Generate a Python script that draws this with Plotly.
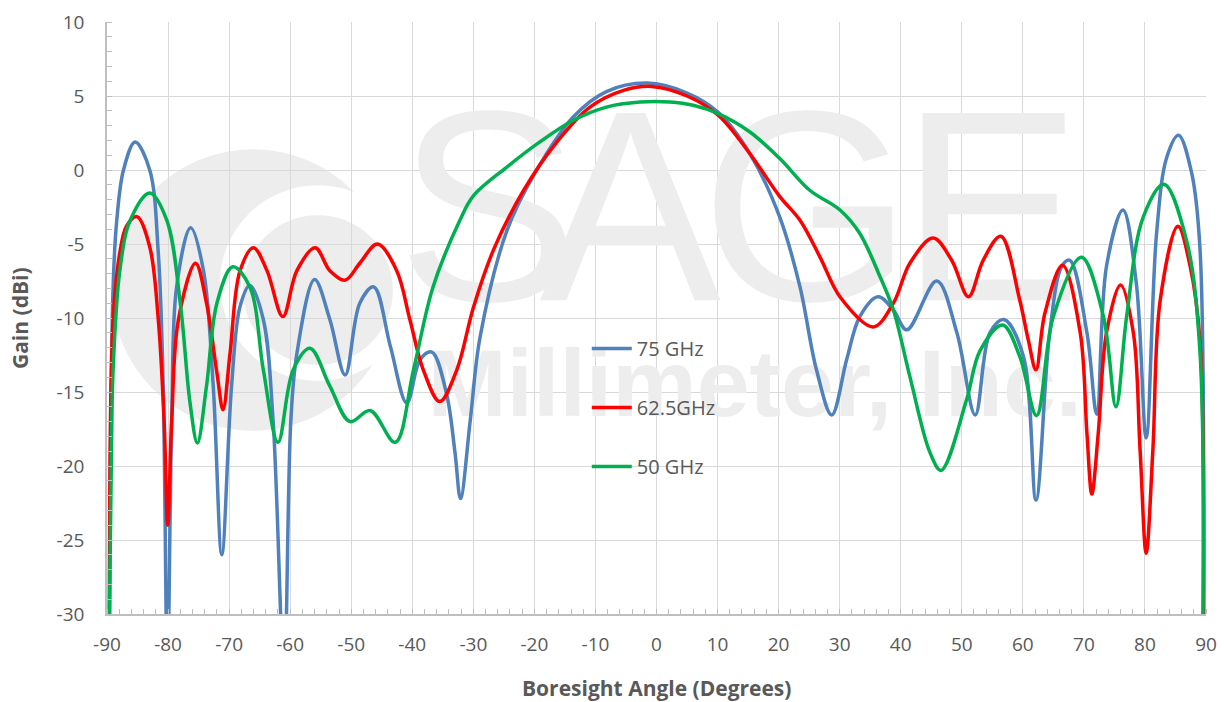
import plotly.graph_objects as go

# ---------------- data ----------------
angle_75 = [-89.6, -89.0, -88.4, -87.3, -85.4, -83.0, -81.6, -80.8, -80.1, -79.4, -78.6, -76.3,
            -74.2, -72.6, -71.2, -69.6, -68.2, -66.6, -64.4, -62.8, -61.0, -59.9, -58.9, -56.0,
            -53.5, -51.0, -48.6, -46.3, -43.6, -40.9, -38.7, -36.8, -34.4, -33.0, -32.1, -30.5,
            -28.9, -24.5, -19.9, -13.6, -8.2, -1.5, 5.0, 10.1, 15.3, 20.2, 23.5, 26.2, 28.7,
            31.15, 33.3, 36.3, 38.8, 41.0, 45.9, 49.2, 52.2, 54.6, 56.9, 60.1, 62.15, 64.4, 66.4,
            67.7, 70.5, 72.1, 73.7, 76.4, 78.6, 80.2, 81.9, 83.6, 85.5, 87.65, 89.0, 89.6]
gain_75 = [-30, -7.9, -3.4, 0.0, 1.9, 0.0, -5.6, -14.6, -34, -16.9, -7.9, -3.9,
           -6.8, -14.6, -26.0, -14.6, -9.2, -7.8, -10.1, -16.9, -34, -17.0, -12.4, -7.4,
           -10.1, -13.85, -9.0, -7.9, -11.9, -15.75, -12.8, -12.3, -15.1, -19.1, -22.2, -16.9,
           -11.3, -4.1, -0.2, 3.6, 5.3, 5.87, 5.2, 3.9, 1.1, -3.2, -7.9, -13.5, -16.55,
           -12.8, -9.9, -8.56, -9.46, -10.8, -7.5, -11.0, -16.55, -11.0, -10.1, -12.6, -22.3, -11.0, -6.5,
           -6.1, -11.0, -16.5, -6.5, -2.7, -7.7, -18.1, -4.3, 0.9, 2.35, -0.2, -5.2, -30]

angle_625 = [-89.6, -89.0, -87.9, -86.8, -85.1, -83.0, -81.6, -80.65, -80.05, -79.4, -78.3, -75.5,
             -73.7, -72.0, -71.0, -69.85, -68.2, -66.0, -63.8, -61.2, -58.9, -55.9, -53.5, -51.0,
             -48.6, -45.7, -42.55, -40.4, -38.2, -35.5, -32.7, -30.0, -26.7, -21.8, -16.3, -10.9,
             -5.4, -0.8, 5.0, 10.1, 15.3, 20.2, 23.5, 26.8, 30.1, 35.5, 38.8, 41.5, 45.3, 48.35,
             51.1, 53.5, 56.4, 59.5, 60.9, 62.15, 63.6, 66.5, 69.4, 70.5, 71.3, 72.35, 73.7, 76.0,
             78.1, 79.2, 80.2, 81.3, 82.5, 85.4, 87.4, 89.0, 89.6]
gain_625 = [-30, -10.1, -5.6, -3.8, -3.15, -5.2, -10.1, -16.9, -24.0, -16.9, -10.1, -6.3,
            -9.0, -13.7, -16.2, -12.4, -6.8, -5.26, -6.8, -9.9, -6.8, -5.26, -6.8, -7.44,
            -6.3, -5.0, -6.8, -10.1, -13.5, -15.65, -13.5, -9.3, -5.4, -1.4, 1.9, 4.25,
            5.38, 5.65, 5.0, 3.7, 1.1, -1.8, -3.4, -5.9, -8.6, -10.6, -9.0, -6.3, -4.6, -6.1,
            -8.56, -6.1, -4.47, -8.8, -11.5, -13.5, -9.7, -6.43, -11.0, -17.8, -21.9, -17.8, -11.0, -7.77,
            -11.0, -18.9, -25.9, -18.9, -8.8, -3.8, -6.5, -11.5, -30]

angle_50 = [-89.6, -89.3, -89.0, -87.9, -86.2, -83.0, -80.2, -78.0, -76.4, -75.2, -73.7, -72.0,
            -69.4, -66.6, -64.4, -62.0, -59.5, -56.75, -53.5, -50.2, -46.9, -42.8, -39.8, -36.6,
            -32.2, -30.0, -24.5, -19.1, -13.6, -8.2, -2.7, 2.2, 6.0, 10.1, 15.3, 20.2, 25.1,
            30.1, 33.3, 36.6, 38.8, 41.5, 44.8, 46.6, 50.8, 53.0, 56.7, 59.5, 62.25, 65.0, 69.6,
            73.2, 75.25, 77.0, 79.7, 83.1, 86.8, 89.0, 89.5]
gain_50 = [-30, -20, -13.5, -6.8, -3.4, -1.55, -3.4, -9.0, -15.75, -18.45, -14.6, -9.0,
           -6.54, -7.9, -13.5, -18.4, -13.5, -12.05, -14.6, -17.0, -16.25, -18.4, -13.5, -7.9,
           -3.4, -1.75, 0.2, 1.9, 3.36, 4.25, 4.59, 4.59, 4.37, 3.81, 2.57, 0.77, -1.37,
           -2.72, -4.29, -7.2, -9.46, -13.96, -19.1, -20.3, -15.5, -12.2, -10.47, -12.6, -16.6, -9.9, -5.9,
           -9.9, -16.0, -9.9, -3.2, -0.96, -4.74, -12.2, -30]

series_names = ["75 GHz", "62.5GHz", "50 GHz"]
series_colors = ["#4F81BD", "#FF0000", "#00B050"]

x_ticks = list(range(-90, 91, 10))
y_ticks = list(range(-30, 11, 5))

x_title = "Boresight Angle (Degrees)"
y_title = "Gain (dBi)"

# watermark text
wm_letters = ["S", "A", "G", "E"]
wm_letter_x = [-27.6, -4.3, 24.6, 54.8]
wm_letter_y = [-4.2, -4.2, -4.2, -4.2]
wm_sub = ["Millimeter, Inc."]
wm_sub_x = [16.1]
wm_sub_y = [-15.0]

# ---------------- figure ----------------
W, H = 1224, 702
ML, MR, MT, MB = 107, 17.5, 21.5, 87.5
PW, PH = W - ML - MR, H - MT - MB

def px_to_paper(px, py):
    # window pixel -> paper coordinates
    return (px - ML) / PW, (H - MB - py) / PH

WM_COLOR = "#ededed"

fig = go.Figure()

# watermark (drawn first, under the curves)
fig.add_trace(go.Scatter(x=wm_letter_x, y=wm_letter_y, text=wm_letters, mode="text",
                         textposition="middle center",
                         textfont=dict(family="Liberation Sans", size=272, color=WM_COLOR),
                         hoverinfo="skip", showlegend=False))
fig.add_trace(go.Scatter(x=wm_sub_x, y=wm_sub_y, text=wm_sub, mode="text",
                         textposition="middle center",
                         textfont=dict(family="Liberation Sans", size=95, color=WM_COLOR, weight="bold"),
                         hoverinfo="skip", showlegend=False))

# logo circles (decoration)
logo = [((253, 290), 141, WM_COLOR), ((318, 283), 98, "white"), ((318, 290), 75, WM_COLOR)]
shapes = []
for (cx, cy), r, col in logo:
    x0, y0 = px_to_paper(cx - r, cy + r)
    x1, y1 = px_to_paper(cx + r, cy - r)
    shapes.append(dict(type="circle", xref="paper", yref="paper", x0=x0, y0=y0, x1=x1, y1=y1,
                       fillcolor=col, line=dict(width=0), layer="below"))

for i, (xs, ys) in enumerate([(angle_75, gain_75), (angle_625, gain_625), (angle_50, gain_50)]):
    fig.add_trace(go.Scatter(x=xs, y=ys, mode="lines", name=series_names[i],
                             line=dict(color=series_colors[i], width=3.5, shape="spline", smoothing=1.0),
                             legendgroup=f"g{i}"))

TXT = "#595959"
FONT = "Open Sans"

lx, ly = px_to_paper(587, 329)
xt_x, xt_y = px_to_paper(656.5, 689)
yt_x, yt_y = px_to_paper(20, 318)

fig.update_layout(
    width=W, height=H,
    margin=dict(l=ML, r=MR, t=MT, b=MB, autoexpand=False),
    paper_bgcolor="white", plot_bgcolor="white",
    font=dict(family=FONT, color=TXT, size=19),
    shapes=shapes,
    legend=dict(x=lx, y=ly, xanchor="left", yanchor="top", bgcolor="rgba(0,0,0,0)",
                font=dict(family=FONT, size=20, color=TXT), tracegroupgap=30,
                itemwidth=40),
    showlegend=True,
    annotations=[
        dict(text=x_title, xref="paper", yref="paper", x=xt_x, y=xt_y, xanchor="center", yanchor="middle",
             showarrow=False, font=dict(family=FONT, size=21, color=TXT, weight="bold")),
        dict(text=y_title, xref="paper", yref="paper", x=yt_x, y=yt_y, xanchor="center", yanchor="middle",
             textangle=-90, showarrow=False, font=dict(family=FONT, size=21, color=TXT, weight="bold")),
    ],
)

fig.update_xaxes(
    range=[-90, 90], tickmode="array", tickvals=x_ticks, ticktext=[str(v) for v in x_ticks],
    showgrid=True, gridcolor="#d9d9d9", gridwidth=1.3,
    showline=True, linecolor="#bfbfbf", linewidth=1.5,
    ticks="", zeroline=False, ticklabelstandoff=12, ticklabeloverflow="allow",
    tickfont=dict(family=FONT, size=19, color=TXT),
    minor=dict(dtick=2, tick0=-90, ticks="inside", ticklen=5, tickcolor="#bfbfbf", tickwidth=1.3, showgrid=False),
)
fig.update_yaxes(
    range=[-30, 10], tickmode="array", tickvals=y_ticks, ticktext=[str(v) for v in y_ticks],
    showgrid=True, gridcolor="#d9d9d9", gridwidth=1.3,
    showline=True, linecolor="#bfbfbf", linewidth=1.5,
    ticks="", zeroline=False, ticklabelstandoff=17, ticklabeloverflow="allow",
    tickfont=dict(family=FONT, size=19, color=TXT),
    minor=dict(dtick=1, tick0=-30, ticks="inside", ticklen=5, tickcolor="#bfbfbf", tickwidth=1.3, showgrid=False),
)

fig.write_html("out.html",
               config={"displayModeBar": False},
               post_script="document.body.style.margin='0';document.body.style.overflow='hidden';")
